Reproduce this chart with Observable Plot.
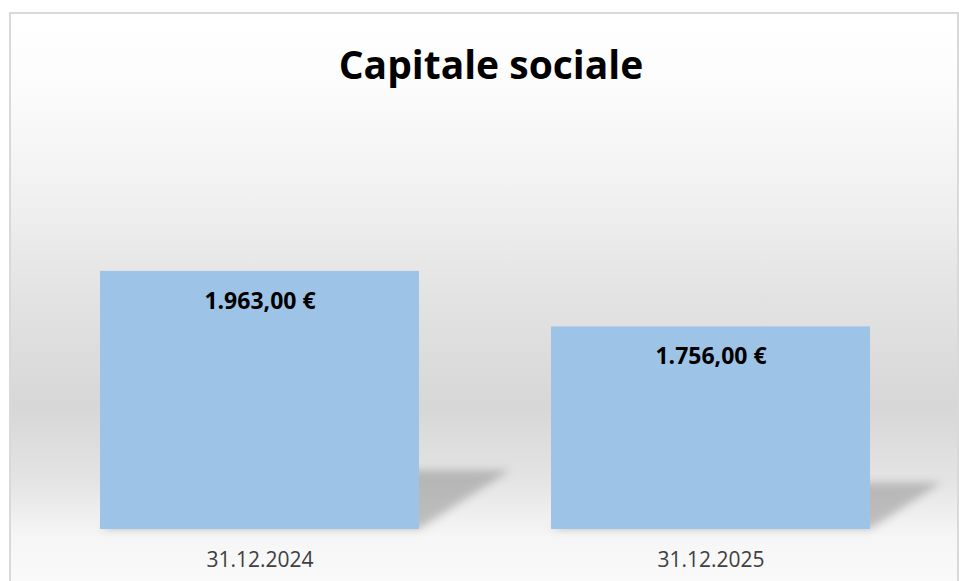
<!DOCTYPE html>
<html>
<head>
<meta charset="utf-8">
<script src="https://cdn.jsdelivr.net/npm/d3@7"></script>
<script src="https://cdn.jsdelivr.net/npm/@observablehq/plot@0.6"></script>
<style>
  html, body { margin: 0; padding: 0; background: #ffffff; overflow: hidden; }
  #wrap { position: relative; width: 959px; height: 581px; overflow: hidden; font-family: "Open Sans", sans-serif; }
  #box {
    position: absolute; left: 9px; top: 12px; width: 946px; height: 600px;
    border: 2px solid #d9d9d9;
    background: linear-gradient(to bottom,
      #ffffff 0px, #fcfcfc 70px, #f2f2f2 170px, #e3e3e3 282px,
      #d7d7d7 393px, #e4e4e4 467px, #f6f6f6 523px, #fafafa 570px, #fafafa 600px);
  }
  #title {
    position: absolute; left: 491px; top: 44px; transform: translateX(-50%);
    font-family: "Open Sans", sans-serif; font-weight: 700; font-size: 39px;
    line-height: 39px; color: #000; white-space: nowrap;
  }
  #chart { position: absolute; left: 0; top: 100px; }
</style>
</head>
<body>
<div id="wrap">
  <div id="box"></div>
  <div id="title">Capitale sociale</div>
  <div id="chart"></div>
</div>
<script>
// ---- data ----
const categories = ["31.12.2024", "31.12.2025"];
const values = [1963, 1756];
const axisMin = 1000;
const axisMax = 2500;

const fmt = d3.formatLocale({decimal: ",", thousands: ".", grouping: [3], currency: ["", " €"]}).format("$,.2f");
const data = categories.map((c, i) => ({category: c, value: values[i], label: fmt(values[i])}));

const W = 959, H = 481;
const plot = Plot.plot({
  width: W,
  height: H,
  marginLeft: 11,
  marginRight: 0,
  marginTop: 27,
  marginBottom: 52,
  style: {background: "transparent", fontFamily: "'Open Sans', sans-serif", overflow: "visible"},
  x: {domain: categories, paddingInner: 0.2927, paddingOuter: 0.1973, round: false, axis: null},
  y: {domain: [axisMin, axisMax], axis: null},
  marks: [
    Plot.barY(data, {x: "category", y1: () => axisMin, y2: "value", fill: "#8a8a8a"}),
    Plot.barY(data, {x: "category", y1: () => axisMin, y2: "value", fill: "#9dc3e6"}),
    Plot.text(data, {x: "category", y: "value", text: "label", dy: 30, fontSize: 23, fontWeight: 700, fill: "#000"}),
    Plot.axisX({tickSize: 0, tickPadding: 23, fontSize: 21, fill: "#404040", label: null})
  ]
});
document.getElementById("chart").appendChild(plot);

// cast shadow: skew each rect of the first bar mark up-right from its base, blurred
const ns = "http://www.w3.org/2000/svg";
const svg = plot.tagName.toLowerCase() === "svg" ? plot : plot.querySelector("svg");
const defs = document.createElementNS(ns, "defs");
defs.innerHTML = `
  <filter id="shblur" x="-10%" y="-30%" width="120%" height="160%">
    <feGaussianBlur stdDeviation="4"/>
  </filter>`;
svg.insertBefore(defs, svg.firstChild);
const k = 0.353, s = 0.229;
const shadowGroup = svg.querySelectorAll('g[aria-label="bar"]')[0];
// wrap the shadow group so the blur is applied after the skew
const wrapper = document.createElementNS(ns, "g");
wrapper.setAttribute("filter", "url(#shblur)");
wrapper.setAttribute("opacity", "0.5");
shadowGroup.parentNode.insertBefore(wrapper, shadowGroup);
wrapper.appendChild(shadowGroup);
shadowGroup.querySelectorAll("rect").forEach(r => {
  const y = +r.getAttribute("y"), h = +r.getAttribute("height");
  const y0 = y + h;
  r.setAttribute("transform", `matrix(1,0,${-k},${s},${k * y0},${(1 - s) * y0})`);
});
</script>
</body>
</html>
